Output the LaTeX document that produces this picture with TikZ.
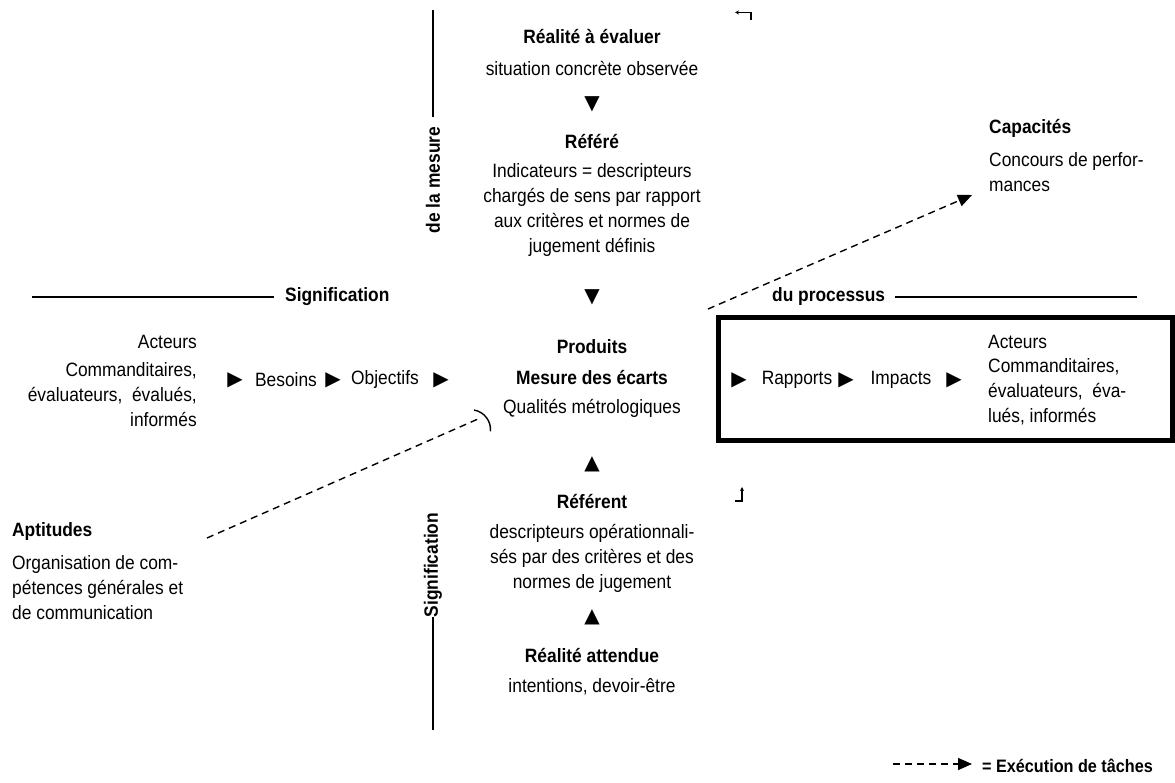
\documentclass[tikz,border=0pt]{standalone}
\usepackage{fontspec}
\setmainfont{Liberation Sans}[FakeStretch=0.9]
\newfontfamily\symf{DejaVu Sans}
\usetikzlibrary{arrows.meta}
\begin{document}
\begin{tikzpicture}[x=1pt,y=-1pt,
  txt/.style={inner sep=0pt, font=\fontsize{19.3}{25}\selectfont},
  hd/.style={inner sep=0pt, font=\fontsize{19.3}{25}\selectfont\bfseries},
  tri/.style={inner sep=0pt, font=\symf\fontsize{20}{20}\selectfont},
  rule/.style={line width=1.6pt},
  dashln/.style={line width=1.4pt, dash pattern=on 7pt off 5pt},
  tip/.style={-{Triangle[length=14pt,width=12pt]}},
  frame/.style={line width=5pt},
  corner/.style={line width=1.1pt, -{Stealth[length=4pt,width=4pt]}}
]
\useasboundingbox (0,0) rectangle (1175,783);

% central column
\node[hd]  (rev)  at (592,37)  {Réalité à évaluer};
\node[txt] (revs) at (592,68)  {situation concrète observée};
\node[tri] (t1)   at (592,104) {▼};
\node[hd]  (refe) at (592,142) {Référé};
\node[txt,align=center] (refes) at (592,210) {Indicateurs = descripteurs\\chargés de sens par rapport\\aux critères et normes de\\jugement définis};
\node[tri] (t2)   at (592,297) {▼};
\node[hd]  (prod) at (592,347) {Produits};
\node[hd]  (mes)  at (592,378) {Mesure des écarts};
\node[txt] (qual) at (592,408) {Qualités métrologiques};
\node[tri] (t3)   at (592,464) {▲};
\node[hd]  (refn) at (592,502) {Référent};
\node[txt,align=center] (refns) at (592,558) {descripteurs opérationnali-\\sés par des critères et des\\normes de jugement};
\node[tri] (t4)   at (592,617) {▲};
\node[hd]  (ratt) at (592,656) {Réalité attendue};
\node[txt] (ratts) at (592,687) {intentions, devoir-être};

% vertical axis labels
\coordinate (vt1) at (433,10);
\coordinate (vt2) at (433,117);
\draw[rule] (vt1) -- (vt2);
\node[hd,rotate=90] (mesure) at (433,180) {de la mesure};
\node[hd,rotate=90] (sigv) at (433,565) {Signification};
\coordinate (vb1) at (433,617);
\coordinate (vb2) at (433,730);
\draw[rule] (vb1) -- (vb2);

% horizontal axis labels
\coordinate (hl1) at (32,297);
\coordinate (hl2) at (274,297);
\draw[rule] (hl1) -- (hl2);
\node[hd,anchor=west] (sigh) at (285,297) {Signification};
\node[hd,anchor=west] (proc) at (772,297) {du processus};
\coordinate (hr1) at (895,297);
\coordinate (hr2) at (1137,297);
\draw[rule] (hr1) -- (hr2);

% left actors
\node[txt,anchor=east] (actl) at (197,342) {Acteurs};
\node[txt,anchor=east,align=right] (actls) at (197,395) {Commanditaires,\\évaluateurs,\ \ évalués,\\informés};
\node[tri] (l1) at (235,380) {▶};
\node[txt] (bes) at (286,380) {Besoins};
\node[tri] (l2) at (333,380) {▶};
\node[txt] (obj) at (385,380) {Objectifs};
\node[tri] (l3) at (441,380) {▶};

% right box
\draw[frame] (718.5,317.5) rectangle (1172.5,440.5);
\node[tri] (r1) at (739,380) {▶};
\node[txt] (rap) at (797,380) {Rapports};
\node[tri] (r2) at (846,380) {▶};
\node[txt] (imp) at (901,380) {Impacts};
\node[tri] (r3) at (954,380) {▶};
\node[txt,anchor=west] (actr) at (988,342) {Acteurs};
\node[txt,anchor=west,align=left] (actrs) at (988,392) {Commanditaires,\\évaluateurs,\ \ éva-\\lués, informés};

% capacites
\node[hd,anchor=west] (cap) at (989,128) {Capacités};
\node[txt,anchor=west,align=left] (caps) at (989,172.5) {Concours de perfor-\\mances};
\coordinate (ca1) at (708,309);
\coordinate (ca2) at (972,195);
\draw[dashln,tip] (ca1) -- (ca2);

% aptitudes
\node[hd,anchor=west] (apt) at (12,532) {Aptitudes};
\node[txt,anchor=west,align=left] (apts) at (12,588) {Organisation de com-\\pétences générales et\\de communication};
\coordinate (ap1) at (207,538);
\coordinate (ap2) at (478,419);
\draw[dashln] (ap1) -- (ap2);
\draw[line width=1.4pt] (474,410) arc[start angle=-80,end angle=5,radius=20];

% corner marks
\coordinate (cm1) at (751,20);
\coordinate (cm2) at (751,12.5);
\coordinate (cm3) at (735,12.5);
\draw[corner] (cm1) -- (cm2) -- (cm3);
\coordinate (cb1) at (735,501);
\coordinate (cb2) at (742,501);
\coordinate (cb3) at (742,487);
\draw[corner] (cb1) -- (cb2) -- (cb3);

% legend
\coordinate (lg1) at (893,764);
\coordinate (lg2) at (972,764);
\draw[dashln,tip] (lg1) -- (lg2);
\node[inner sep=0pt,anchor=west,font=\fontsize{18}{20}\selectfont\bfseries] (leg) at (982,766) {= Exécution de tâches};
\end{tikzpicture}
\end{document}
